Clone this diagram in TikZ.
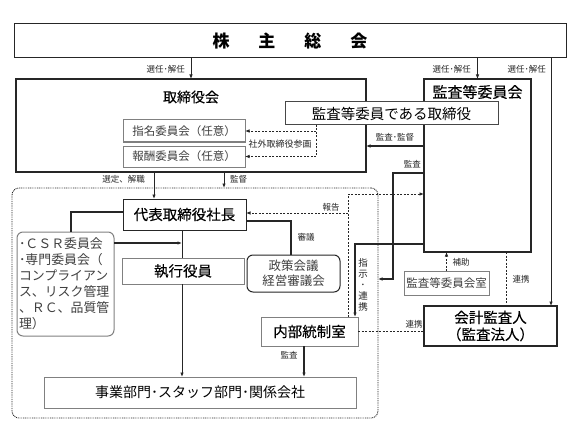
\documentclass[tikz,border=0pt]{standalone}
\usepackage{fontspec}
\setmainfont{Noto Sans CJK JP}
\newfontfamily\medfont{Noto Sans CJK JP}[FakeBold=0.2]
\usetikzlibrary{arrows.meta}
\definecolor{lc}{HTML}{262626}
\definecolor{gc}{HTML}{808080}
\definecolor{tg}{HTML}{404040}
\begin{document}
\begin{tikzpicture}[x=1pt,y=-1pt,
  ln/.style={draw=lc, line width=1pt},
  dsh/.style={draw=lc, line width=0.8pt, dash pattern=on 2pt off 1.5pt},
  box/.style={draw=lc, line width=1pt, fill=white, inner sep=0pt, outer sep=0pt},
  arr/.style={-{Latex[length=4.5pt,width=3.6pt]}},
  lbl/.style={font=\fontsize{8.5}{9}\selectfont, inner sep=1pt, text=lc},
  fs/.style={font=\fontsize{#1}{#1}\selectfont},
  fm/.style={font=\medfont\fontsize{#1}{#1}\selectfont}]
\useasboundingbox (0,0) rectangle (586,425);

% executive area
\node[draw=lc, line width=0.9pt, dash pattern=on 0.9pt off 0.9pt, rounded corners=7pt,
      minimum width=366pt, minimum height=230pt, inner sep=0pt, outer sep=0pt] (exec) at (195,303) {};

% boxes
\node[box, minimum width=552pt, minimum height=34pt, font=\fontsize{17}{17}\selectfont\bfseries] (kabu) at (290,41)
  {株\hspace{29pt}主\hspace{29pt}総\hspace{29pt}会};
\node[box, line width=1.3pt, minimum width=350pt, minimum height=93pt] (tori) at (191,125.5) {};
\node[fm=14] (toriT) at (191,97) {取締役会};
\node[box, draw=gc, text=tg, minimum width=122pt, minimum height=22pt, fs=11.5] (shimei) at (184,131) {指名委員会（任意）};
\node[box, draw=gc, text=tg, minimum width=122pt, minimum height=21pt, fs=11.5] (hoshu) at (184,156.5) {報酬委員会（任意）};

\node[box, line width=1.5pt, minimum width=107pt, minimum height=173pt] (kiinkai) at (477.5,165.5) {};
\node[fm=15] (kiinkaiT) at (477.5,92) {監査等委員会};
\node[box, draw=lc!85, minimum width=213pt, minimum height=23pt, fs=14.5] (ktori) at (391.5,113.5) {監査等委員である取締役};

\node[box, minimum width=123pt, minimum height=31pt, fm=14.5] (shacho) at (184.5,214.5) {代表取締役社長};
\node[box, draw=gc, rounded corners=6pt, minimum width=97pt, minimum height=104pt, text width=93pt,
      inner xsep=2pt, align=left, text=tg, font=\fontsize{12.9}{16}\selectfont] (csr) at (65.5,284)
  {･ＣＳＲ委員会\\･専門委員会（\\コンプライアン\\ス、リスク管理\\、ＲＣ、品質管\\理）};
\node[box, draw=gc, minimum width=122pt, minimum height=26pt, fm=14.5] (shikko) at (183,271) {執行役員};
\node[box, rounded corners=6pt, minimum width=93pt, minimum height=37pt, align=center, text=tg,
      font=\fontsize{12.5}{15}\selectfont] (seisaku) at (293.5,273.5) {政策会議\\経営審議会};
\node[box, draw=gc, minimum width=97pt, minimum height=29pt, fm=14.5] (naibu) at (309.5,331.5) {内部統制室};
\node[box, draw=gc, minimum width=312pt, minimum height=31pt, fs=14] (jigyo) at (200,392.5) {事業部門･スタッフ部門･関係会社};
\node[box, draw=gc, text=tg, minimum width=85pt, minimum height=24pt, fs=11.5] (kshitsu) at (446.5,283) {監査等委員会室};
\node[box, line width=1.6pt, minimum width=133pt, minimum height=40pt, align=center,
      font=\medfont\fontsize{14.5}{17}\selectfont] (kaikei) at (490.5,326) {会計監査人\\（監査法人）};

% helper coordinates
\coordinate (xA) at (551,0);
\coordinate (y146) at (0,146);
\coordinate (k1) at (393,173);
\coordinate (k2) at (393,279);
\coordinate (s1) at (355,244);
\coordinate (h1) at (348,194);
\coordinate (h2) at (348,213);
\coordinate (g1) at (316,0);
\coordinate (x154) at (154,0);
\coordinate (x224) at (224,0);
\coordinate (c1) at (71,212);
\coordinate (c2) at (182,243);
\coordinate (p1) at (291,221);
\coordinate (x304) at (304,0);
\coordinate (x506) at (506,0);

% connectors
\draw[ln,arr] (kabu.south -| tori.north) -- (tori.north);
\draw[ln,arr] (kabu.south -| kiinkai.north) -- (kiinkai.north);
\draw[ln,arr] (kabu.south -| xA) -- (kaikei.north -| xA);
\draw[ln,line width=1.8pt,arr] (kiinkai.west |- y146) -- (tori.east |- y146);
\draw[ln,line width=1.5pt,arr] (kiinkai.west |- k1) -- (k1) -- (k2) -- (exec.east |- k2);
\draw[ln,line width=1.5pt,arr] (kiinkai.west |- s1) -- (s1) -- (s1 |- naibu.north);
\draw[dsh,arr] (h1 |- naibu.north) -- (h1) -- (kiinkai.west |- h1);
\draw[dsh,arr] (h2) -- (shacho.east |- h2);
\draw[dsh] (ktori.south -| g1) -- (g1 |- hoshu.east);
\draw[dsh,arr] (g1 |- shimei.east) -- (shimei.east);
\draw[dsh,arr] (g1 |- hoshu.east) -- (hoshu.east);
\draw[ln,arr] (tori.south -| x154) -- (shacho.north -| x154);
\draw[ln,arr] (tori.south -| x224) -- (exec.north -| x224);
\draw[ln,line width=1.3pt] (shacho.west |- c1) -- (c1) -- (c1 |- csr.north);
\draw[ln,line width=1.3pt,arr] (csr.east |- c2) -- (c2);
\draw[ln] (shacho.south -| c2) -- (shikko.north -| c2);
\draw[ln,arr] (shikko.south -| c2) -- (jigyo.north -| c2);
\draw[ln,line width=1.3pt] (shacho.east |- p1) -- (p1) -- (p1 |- seisaku.north);
\draw[ln,line width=1.3pt,arr] (naibu.south -| x304) -- (jigyo.north -| x304);
\draw[dsh] (naibu.east) -- (kaikei.west |- naibu.east);
\draw[dsh,arr] (kshitsu.north) -- (kiinkai.south -| kshitsu.north);
\draw[dsh] (kiinkai.south -| x506) -- (kaikei.north -| x506);

% labels
\node[lbl, anchor=east] (l1) at (186,69) {選任･解任};
\node[lbl, anchor=east] (l2) at (472,69) {選任･解任};
\node[lbl, anchor=east] (l3) at (547,69) {選任･解任};
\node[lbl, anchor=east] (l4) at (146,179) {選定、解職};
\node[lbl, anchor=west] (l5) at (229,179) {監督};
\node[lbl, font=\fontsize{9}{9}\selectfont] (l6) at (280,144) {社外取締役参画};
\node[lbl] (l7) at (395,137) {監査･監督};
\node[lbl, anchor=east] (l8) at (422,164) {監査};
\node[lbl] (l9) at (331,207) {報告};
\node[lbl] (l10) at (306,237) {審議};
\node[lbl, align=center, font=\fontsize{9.5}{11}\selectfont] (l11) at (363,285) {指\\示\\･\\連\\携};
\node[lbl] (l12) at (461,262) {補助};
\node[lbl] (l13) at (521,279) {連携};
\node[lbl] (l14) at (414,324) {連携};
\node[lbl] (l15) at (289,355) {監査};
\end{tikzpicture}
\end{document}
